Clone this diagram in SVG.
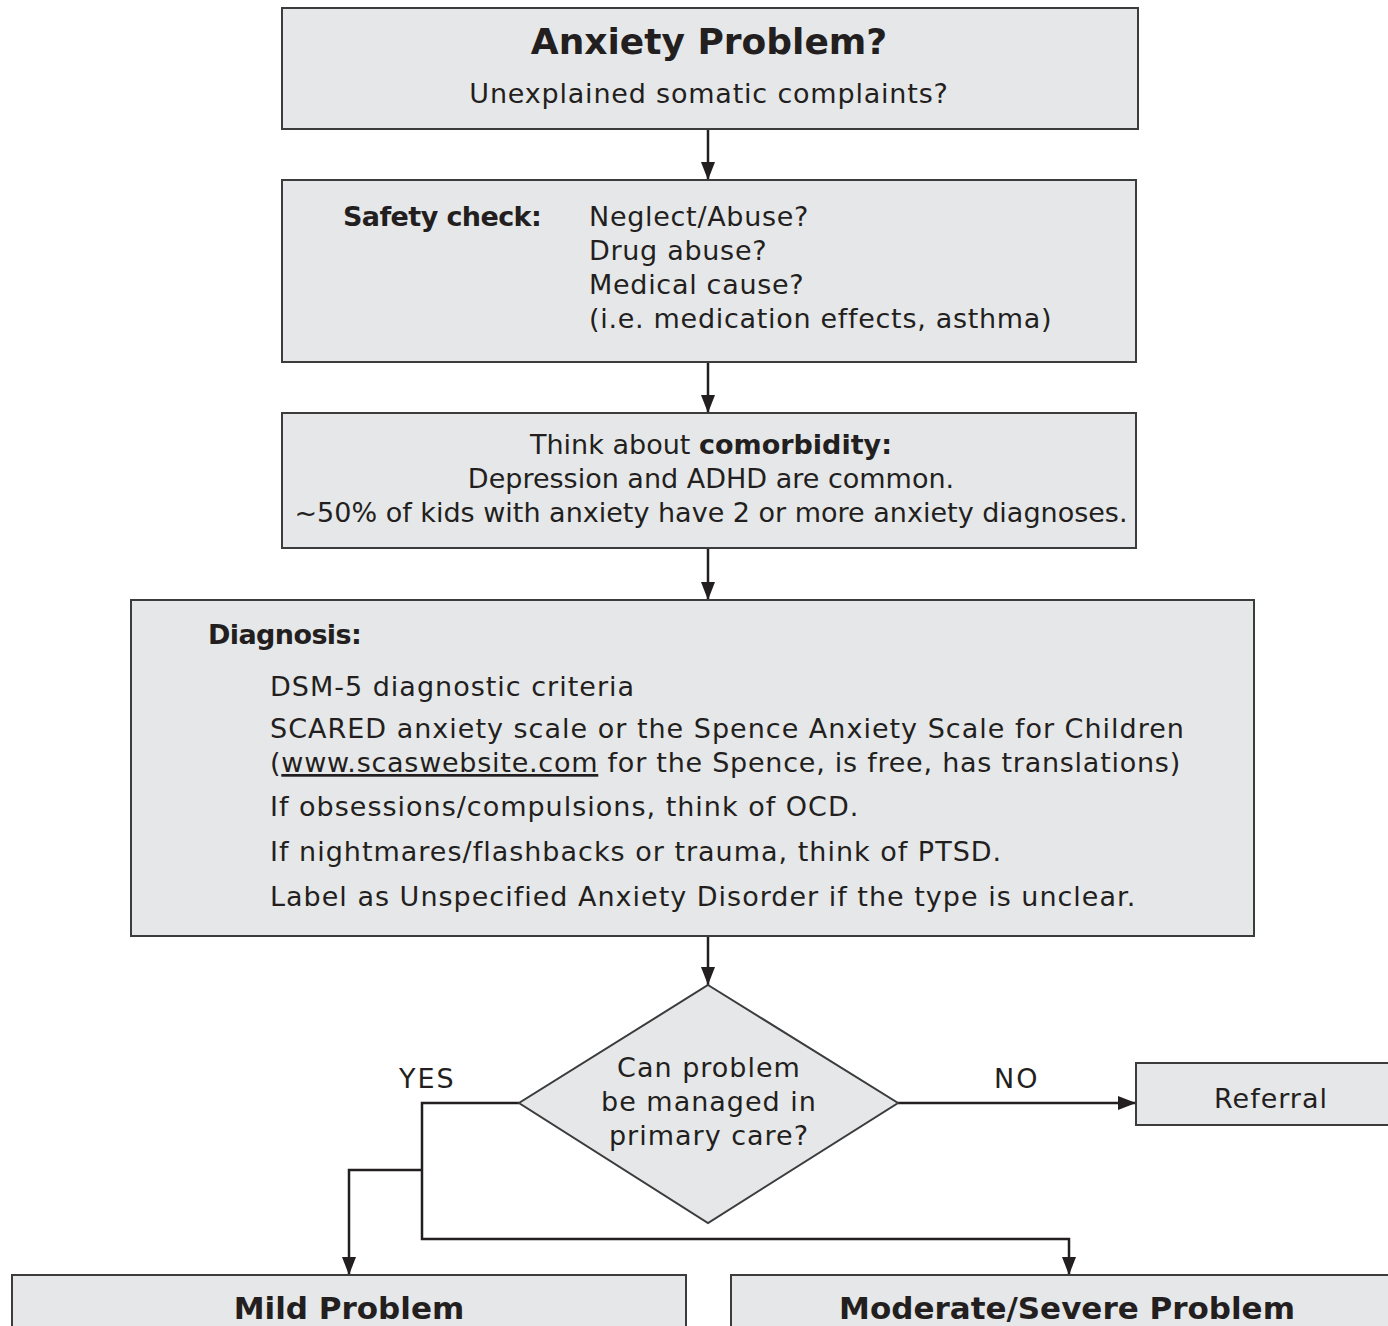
<svg xmlns="http://www.w3.org/2000/svg" width="1388" height="1326" viewBox="0 0 1388 1326">
<style>
.box{fill:#e6e7e8;stroke:#3c3c3c;stroke-width:2}
.t{font-family:"DejaVu Sans","Open Sans",sans-serif;font-size:27px;fill:#231f20}
.b{font-weight:bold}
.c{text-anchor:middle}
.s1{letter-spacing:0.7px}
.s2{letter-spacing:1px}
.ln{fill:none;stroke:#231f20;stroke-width:2.5}
</style>
<defs>
<marker id="ah" markerUnits="userSpaceOnUse" markerWidth="18" markerHeight="14" refX="18" refY="7" orient="auto" viewBox="0 0 18 14">
<path d="M0 0 L18 7 L0 14 Z" fill="#231f20"/>
</marker>
</defs>
<rect width="1388" height="1326" fill="#ffffff"/>
<g id="connectors">
<line class="ln" x1="708" y1="129" x2="708" y2="180" marker-end="url(#ah)"/>
<line class="ln" x1="708" y1="362" x2="708" y2="413" marker-end="url(#ah)"/>
<line class="ln" x1="708" y1="548" x2="708" y2="600" marker-end="url(#ah)"/>
<line class="ln" x1="708" y1="936" x2="708" y2="985" marker-end="url(#ah)"/>
<line class="ln" x1="898" y1="1103" x2="1136" y2="1103" marker-end="url(#ah)"/>
<polyline class="ln" points="519,1103 422,1103 422,1239 1069,1239 1069,1275" marker-end="url(#ah)"/>
<polyline class="ln" points="422,1170 349,1170 349,1275" marker-end="url(#ah)"/>
<text class="t" x="399" y="1088" style="letter-spacing:2px">YES</text>
<text class="t" x="994" y="1088" style="letter-spacing:2px">NO</text>
</g>
<g id="anxiety">
<rect class="box" x="282" y="8" width="856" height="121"/>
<text class="t b c" x="709" y="54" style="font-size:36px">Anxiety Problem?</text>
<text class="t c s1" x="709" y="103" style="letter-spacing:0.8px">Unexplained somatic complaints?</text>
</g>
<g id="safety">
<rect class="box" x="282" y="180" width="854" height="182"/>
<text class="t b" x="343" y="226" style="letter-spacing:-0.6px">Safety check:</text>
<text class="t s1" x="589" y="226">Neglect/Abuse?</text>
<text class="t s1" x="589" y="260">Drug abuse?</text>
<text class="t s1" x="589" y="294">Medical cause?</text>
<text class="t s1" x="589" y="328">(i.e. medication effects, asthma)</text>
</g>
<g id="comorbidity">
<rect class="box" x="282" y="413" width="854" height="135"/>
<text class="t c" x="711" y="454">Think about <tspan class="b">comorbidity:</tspan></text>
<text class="t c" x="711" y="488">Depression and ADHD are common.</text>
<text class="t c" x="711" y="522">~50% of kids with anxiety have 2 or more anxiety diagnoses.</text>
</g>
<g id="diagnosis">
<rect class="box" x="131" y="600" width="1123" height="336"/>
<text class="t b" x="208" y="644" style="letter-spacing:-0.6px">Diagnosis:</text>
<text class="t s2" x="270" y="696">DSM-5 diagnostic criteria</text>
<text class="t s2" x="270" y="738">SCARED anxiety scale or the Spence Anxiety Scale for Children</text>
<text class="t" x="270" y="772" style="letter-spacing:0.75px">(<tspan text-decoration="underline">www.scaswebsite.com</tspan> for the Spence, is free, has translations)</text>
<text class="t s2" x="270" y="816">If obsessions/compulsions, think of OCD.</text>
<text class="t s2" x="270" y="861">If nightmares/flashbacks or trauma, think of PTSD.</text>
<text class="t s2" x="270" y="906">Label as Unspecified Anxiety Disorder if the type is unclear.</text>
</g>
<g id="decision">
<polygon class="box" points="708,985 898,1103 708,1223 519,1103"/>
<text class="t c s2" x="709" y="1077">Can problem</text>
<text class="t c s2" x="709" y="1111">be managed in</text>
<text class="t c s2" x="709" y="1145">primary care?</text>
</g>
<g id="referral">
<rect class="box" x="1136" y="1063" width="260" height="62"/>
<text class="t c s2" x="1271" y="1108">Referral</text>
</g>
<g id="mild">
<rect class="box" x="12" y="1275" width="674" height="60"/>
<text class="t b c" x="349" y="1319" style="font-size:31px">Mild Problem</text>
</g>
<g id="moderate">
<rect class="box" x="731" y="1275" width="670" height="60"/>
<text class="t b c" x="1067" y="1319" style="font-size:31px">Moderate/Severe Problem</text>
</g>
</svg>
